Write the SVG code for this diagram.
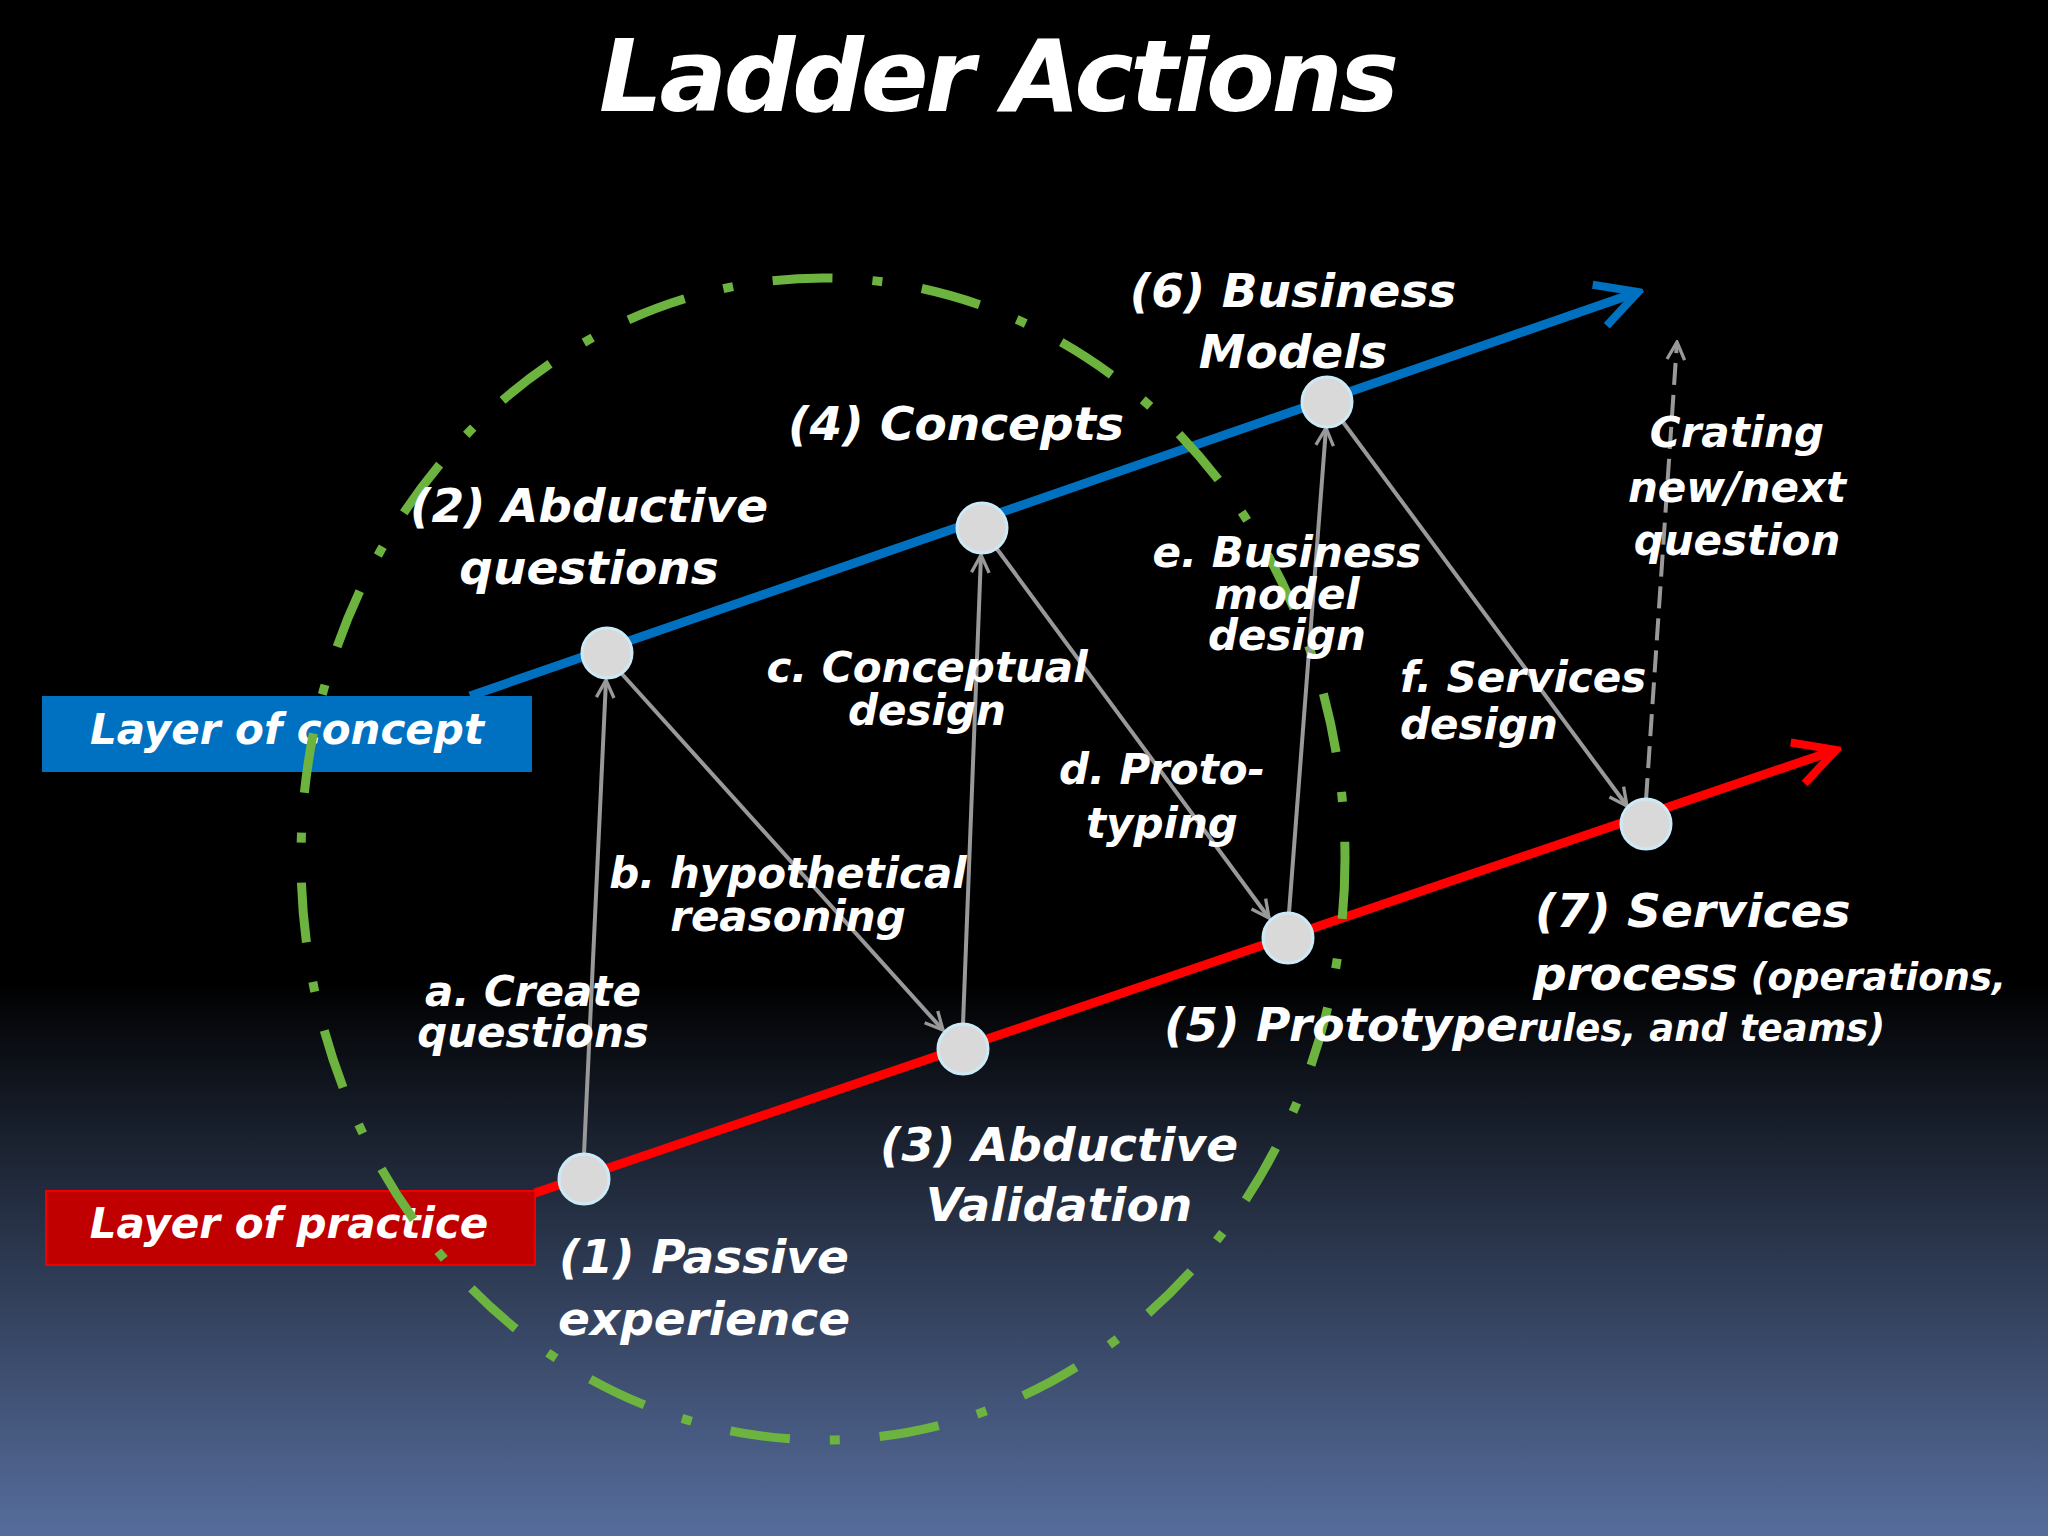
<svg xmlns="http://www.w3.org/2000/svg" width="2048" height="1536" viewBox="0 0 2048 1536">
<defs>
<linearGradient id="bg" x1="0" y1="0" x2="0" y2="1">
<stop offset="0" stop-color="#000"/><stop offset="0.64" stop-color="#000"/><stop offset="0.75" stop-color="#1c2433"/><stop offset="1" stop-color="#566d9c"/>
</linearGradient>
<marker id="ga" viewBox="0 0 10 10" refX="9" refY="5" markerWidth="7" markerHeight="7" orient="auto" markerUnits="userSpaceOnUse"><path d="M0,0 L10,5 L0,10" fill="none" stroke="#999" stroke-width="1.5"/></marker>
<marker id="gs" viewBox="0 0 20 20" refX="18" refY="10" markerWidth="22" markerHeight="22" orient="auto" markerUnits="userSpaceOnUse"><path d="M2,2 L18,10 L2,18" fill="none" stroke="#999" stroke-width="3"/></marker>
<marker id="big" viewBox="0 0 20 20" refX="18" refY="10" markerWidth="50" markerHeight="50" orient="auto" markerUnits="userSpaceOnUse"><path d="M3,2 L18,10 L3,18" fill="none" stroke="context-stroke" stroke-width="3"/></marker>
<marker id="bigb" viewBox="0 0 20 20" refX="18" refY="10" markerWidth="54" markerHeight="54" orient="auto" markerUnits="userSpaceOnUse"><path d="M3,2 L18,10 L3,18" fill="none" stroke="#0070c0" stroke-width="3"/></marker>
<marker id="bigr" viewBox="0 0 20 20" refX="18" refY="10" markerWidth="54" markerHeight="54" orient="auto" markerUnits="userSpaceOnUse"><path d="M3,2 L18,10 L3,18" fill="none" stroke="#ff0000" stroke-width="3"/></marker>
</defs>
<style>
text{font-family:"DejaVu Sans",Verdana,sans-serif;font-weight:bold;font-style:italic;fill:#fff}
.n{font-size:47px;text-anchor:middle}
.l{font-size:42px;text-anchor:middle}
.s{font-size:37px}
.g{stroke:#999;stroke-width:4;fill:none}
.node{fill:#d9d9d9;stroke:#cde9f5;stroke-width:3}
</style>
<rect width="2048" height="1536" fill="url(#bg)"/>
<text x="999" y="111" font-size="100" text-anchor="middle" style="font-size:100px" textLength="800">Ladder Actions</text>
<g id="layers">
<rect x="42" y="696" width="490" height="76" fill="#0070c0"/>
<rect x="46" y="1191" width="489" height="74" fill="#c00000" stroke="#e00" stroke-width="2"/>
<text x="287" y="744" class="l">Layer of concept</text>
<text x="289" y="1238" class="l">Layer of practice</text>
</g>
<g id="connectors">
<line x1="470" y1="696" x2="1638" y2="292" stroke="#0070c0" stroke-width="9" marker-end="url(#bigb)"/>
<line x1="535" y1="1193" x2="1836" y2="750" stroke="#ff0000" stroke-width="9" marker-end="url(#bigr)"/>
<ellipse cx="823" cy="859" rx="522" ry="581" fill="none" stroke="#6db33f" stroke-width="9" stroke-dasharray="60,40,10,40"/>
<line class="g" x1="584" y1="1154" x2="606" y2="680" marker-end="url(#gs)"/>
<line class="g" x1="622" y1="674" x2="943" y2="1030" marker-end="url(#gs)"/>
<line class="g" x1="963" y1="1024" x2="981" y2="555" marker-end="url(#gs)"/>
<line class="g" x1="997" y1="549" x2="1269" y2="918" marker-end="url(#gs)"/>
<line class="g" x1="1289" y1="913" x2="1326" y2="428" marker-end="url(#gs)"/>
<line class="g" x1="1343" y1="422" x2="1627" y2="806" marker-end="url(#gs)"/>
<line class="g" x1="1646" y1="800" x2="1677" y2="342" stroke-dasharray="22,10" marker-end="url(#gs)"/>
</g>
<g id="n1"><circle class="node" cx="584" cy="1179" r="25"/><text class="n" x="704" y="1273">(1) Passive</text><text class="n" x="704" y="1335">experience</text></g>
<g id="n2"><circle class="node" cx="607" cy="653" r="25"/><text class="n" x="589" y="522">(2) Abductive</text><text class="n" x="589" y="584">questions</text></g>
<g id="n3"><circle class="node" cx="963" cy="1049" r="25"/><text class="n" x="1059" y="1161">(3) Abductive</text><text class="n" x="1059" y="1221">Validation</text></g>
<g id="n4"><circle class="node" cx="982" cy="528" r="25"/><text class="n" x="956" y="440">(4) Concepts</text></g>
<g id="n5"><circle class="node" cx="1288" cy="938" r="25"/><text x="1164" y="1041" style="font-size:47px">(5) Prototype<tspan class="s" style="font-size:37px">rules, and teams)</tspan></text></g>
<g id="n6"><circle class="node" cx="1327" cy="402" r="25"/><text class="n" x="1293" y="307">(6) Business</text><text class="n" x="1293" y="368">Models</text></g>
<g id="n7"><circle class="node" cx="1646" cy="824" r="25"/><text x="1535" y="927" style="font-size:47px">(7) Services</text><text x="1533" y="990" style="font-size:47px">process<tspan style="font-size:37px"> (operations,</tspan></text></g>
<g id="labels">
<text class="l" x="533" y="1006">a. Create</text><text class="l" x="533" y="1047">questions</text>
<text class="l" x="788" y="888">b. hypothetical</text><text class="l" x="788" y="931">reasoning</text>
<text class="l" x="927" y="682">c. Conceptual</text><text class="l" x="927" y="725">design</text>
<text class="l" x="1162" y="784">d. Proto-</text><text class="l" x="1162" y="838">typing</text>
<text class="l" x="1287" y="567">e. Business</text><text class="l" x="1287" y="609">model</text><text class="l" x="1287" y="650">design</text>
<text x="1400" y="692" style="font-size:42px">f. Services</text><text x="1400" y="739" style="font-size:42px">design</text>
<text class="l" x="1737" y="447">Crating</text><text class="l" x="1737" y="502">new/next</text><text class="l" x="1737" y="555">question</text>
</g>
</svg>
